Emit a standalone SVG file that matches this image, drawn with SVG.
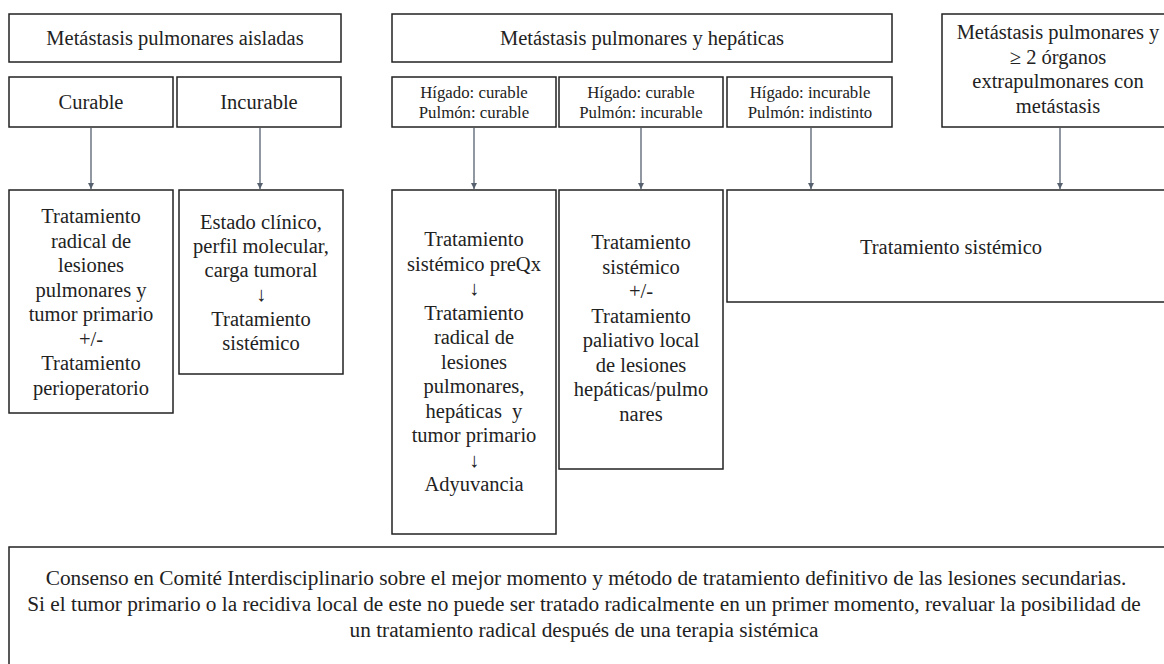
<svg xmlns="http://www.w3.org/2000/svg" width="1164" height="664" viewBox="0 0 1164 664">
<style>
.b{fill:#fff;stroke:#222;stroke-width:1.5}
.t{font-family:"Liberation Serif","Times New Roman",serif;font-size:20.5px;fill:#222;text-anchor:middle}
.s{font-family:"Liberation Serif","Times New Roman",serif;font-size:16.8px;fill:#222;text-anchor:middle}
.f{font-family:"Liberation Serif","Times New Roman",serif;font-size:21.3px;fill:#222;text-anchor:middle}
.c{stroke:#56606e;stroke-width:1.3;fill:none;marker-end:url(#ah)}
</style>
<defs>
<marker id="ah" markerWidth="8" markerHeight="8" refX="6" refY="3" orient="auto" markerUnits="userSpaceOnUse">
<path d="M0,0 L6,3 L0,6 Z" fill="#56606e"/>
</marker>
</defs>
<rect width="1164" height="664" fill="#fff"/>
<g id="n-aisladas"><rect class="b" x="9" y="14" width="332" height="48"/><text class="t" x="175" y="45">Metástasis pulmonares aisladas</text></g>
<g id="n-curable"><rect class="b" x="9" y="77" width="164" height="50"/><text class="t" x="91" y="109">Curable</text></g>
<g id="n-incurable"><rect class="b" x="177" y="77" width="164" height="50"/><text class="t" x="259" y="109">Incurable</text></g>
<g id="n-hepaticas"><rect class="b" x="392" y="14" width="500" height="48"/><text class="t" x="642" y="45">Metástasis pulmonares y hepáticas</text></g>
<g id="n-h1"><rect class="b" x="392" y="77" width="164" height="50"/><text class="s" x="474" y="97.5">Hígado: curable</text><text class="s" x="474" y="117.5">Pulmón: curable</text></g>
<g id="n-h2"><rect class="b" x="559" y="77" width="164" height="50"/><text class="s" x="641" y="97.5">Hígado: curable</text><text class="s" x="641" y="117.5">Pulmón: incurable</text></g>
<g id="n-h3"><rect class="b" x="727" y="77" width="165" height="50"/><text class="s" x="810" y="97.5">Hígado: incurable</text><text class="s" x="810" y="117.5">Pulmón: indistinto</text></g>
<g id="n-organos"><rect class="b" x="942" y="14" width="232" height="113"/>
<text class="t" x="1058" y="39">Metástasis pulmonares y</text>
<text class="t" x="1058" y="64">≥ 2 órganos</text>
<text class="t" x="1058" y="88">extrapulmonares con</text>
<text class="t" x="1058" y="113">metástasis</text></g>
<g id="n-radical"><rect class="b" x="9" y="190" width="164" height="223"/>
<text class="t" x="91" y="223">Tratamiento</text>
<text class="t" x="91" y="247.5">radical de</text>
<text class="t" x="91" y="272">lesiones</text>
<text class="t" x="91" y="296.5">pulmonares y</text>
<text class="t" x="91" y="321">tumor primario</text>
<text class="t" x="91" y="345.5">+/-</text>
<text class="t" x="91" y="370">Tratamiento</text>
<text class="t" x="91" y="394.5">perioperatorio</text></g>
<g id="n-estado"><rect class="b" x="179" y="190" width="164" height="184"/>
<text class="t" x="261" y="229">Estado clínico,</text>
<text class="t" x="261" y="253">perfil molecular,</text>
<text class="t" x="261" y="277">carga tumoral</text>
<text class="t" x="261" y="301">↓</text>
<text class="t" x="261" y="326">Tratamiento</text>
<text class="t" x="261" y="350">sistémico</text></g>
<g id="n-preqx"><rect class="b" x="392" y="190" width="164" height="344"/>
<text class="t" x="474" y="246">Tratamiento</text>
<text class="t" x="474" y="270.5">sistémico preQx</text>
<text class="t" x="474" y="295">↓</text>
<text class="t" x="474" y="319.5">Tratamiento</text>
<text class="t" x="474" y="344">radical de</text>
<text class="t" x="474" y="368.5">lesiones</text>
<text class="t" x="474" y="393">pulmonares,</text>
<text class="t" x="474" y="417.5" xml:space="preserve">hepáticas  y</text>
<text class="t" x="474" y="442">tumor primario</text>
<text class="t" x="474" y="466.5">↓</text>
<text class="t" x="474" y="491">Adyuvancia</text></g>
<g id="n-paliativo"><rect class="b" x="559" y="190" width="164" height="279"/>
<text class="t" x="641" y="249">Tratamiento</text>
<text class="t" x="641" y="273.5">sistémico</text>
<text class="t" x="641" y="298">+/-</text>
<text class="t" x="641" y="322.5">Tratamiento</text>
<text class="t" x="641" y="347">paliativo local</text>
<text class="t" x="641" y="371.5">de lesiones</text>
<text class="t" x="641" y="396">hepáticas/pulmo</text>
<text class="t" x="641" y="420.5">nares</text></g>
<g id="n-sistemico"><rect class="b" x="727" y="190" width="448" height="112"/><text class="t" x="951" y="254">Tratamiento sistémico</text></g>
<g id="n-consenso"><rect class="b" x="9" y="547" width="1170" height="130"/>
<text class="f" x="586" y="585">Consenso en Comité Interdisciplinario sobre el mejor momento y método de tratamiento definitivo de las lesiones secundarias.</text>
<text class="f" x="584" y="611">Si el tumor primario o la recidiva local de este no puede ser tratado radicalmente en un primer momento, revaluar la posibilidad de</text>
<text class="f" x="584" y="637">un tratamiento radical después de una terapia sistémica</text></g>
<g id="connectors">
<line class="c" x1="91" y1="128" x2="91" y2="189"/>
<line class="c" x1="260" y1="128" x2="260" y2="189"/>
<line class="c" x1="474" y1="128" x2="474" y2="189"/>
<line class="c" x1="641" y1="128" x2="641" y2="189"/>
<line class="c" x1="811" y1="128" x2="811" y2="189"/>
<line class="c" x1="1060" y1="128" x2="1060" y2="189"/>
</g>
</svg>
